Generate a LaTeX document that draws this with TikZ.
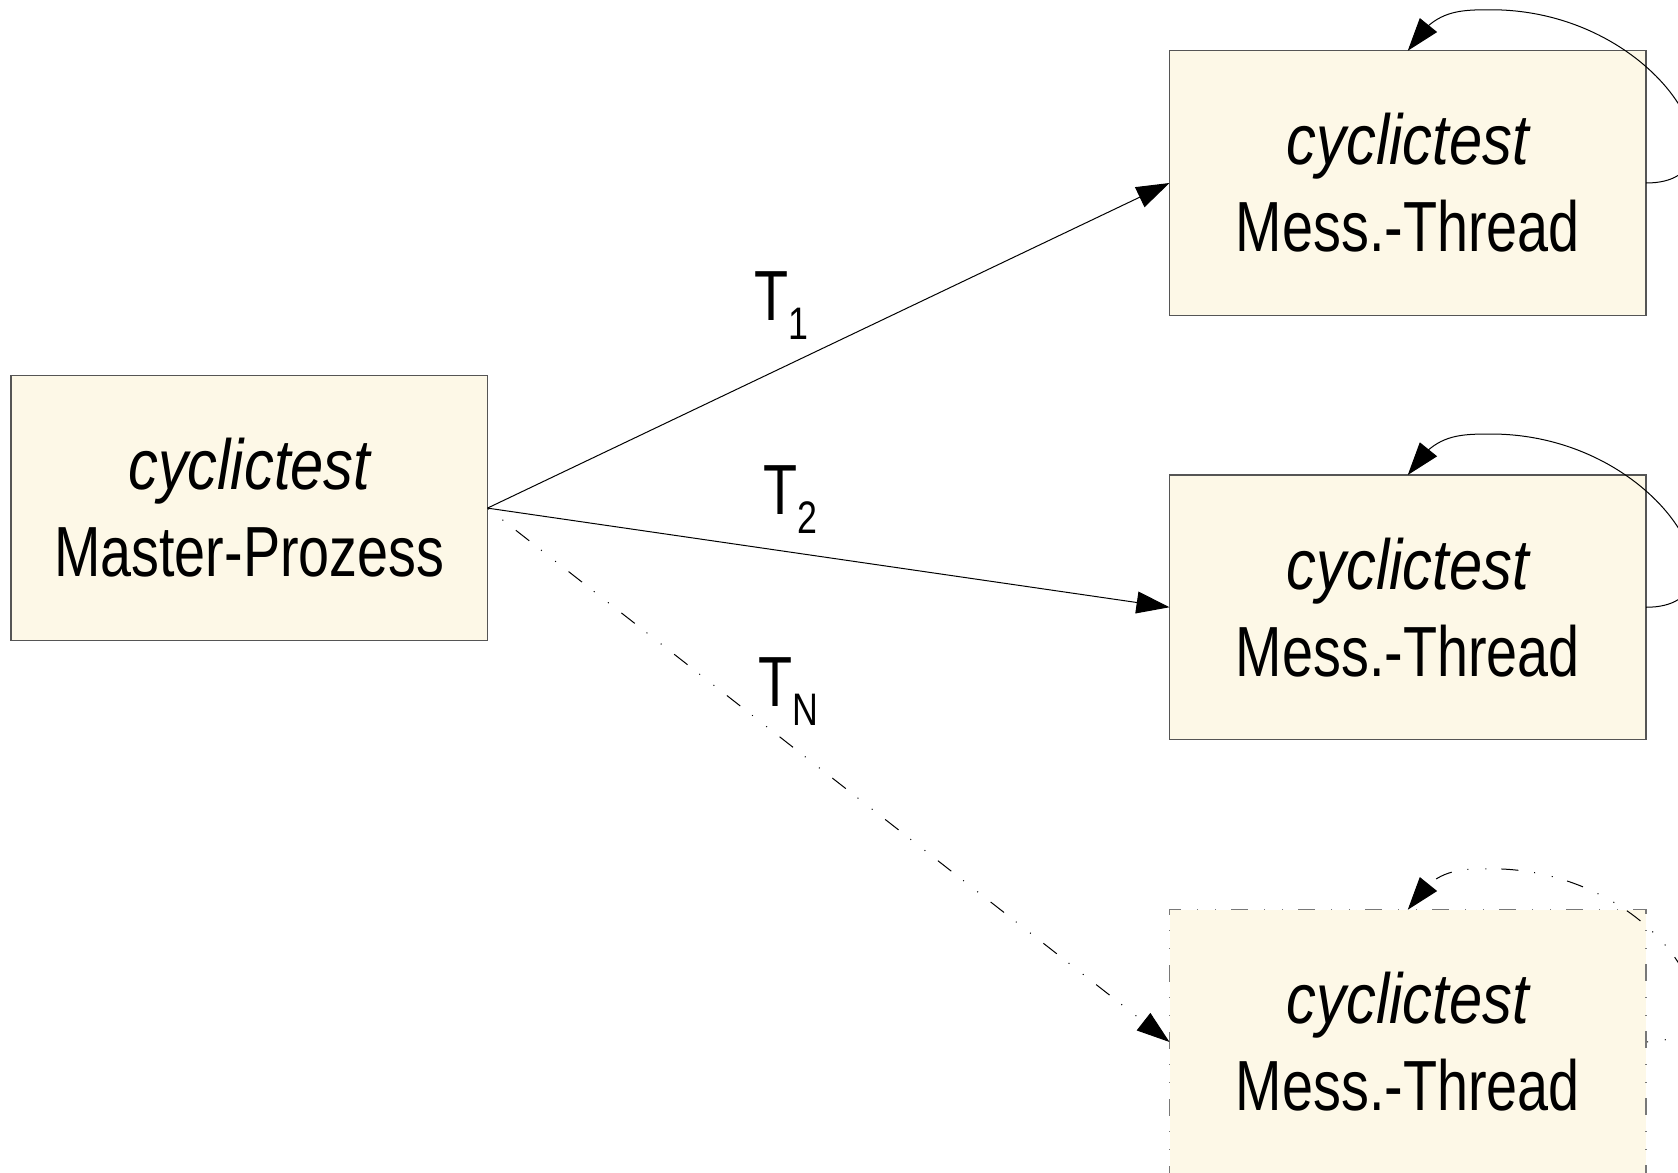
\documentclass[tikz,border=0pt]{standalone}
\usepackage{fontspec}
\setmainfont[FakeStretch=0.785,ItalicFeatures={FakeStretch=0.84}]{Liberation Sans}
\usetikzlibrary{arrows.meta,bending}
\definecolor{boxfill}{RGB}{253,248,231}
\definecolor{boxline}{RGB}{85,85,85}
\definecolor{dashline}{RGB}{120,120,120}
\newcommand\boxfont{\fontsize{35.5pt}{43.5pt}\selectfont}
\newcommand\labfont{\fontsize{35.5pt}{40pt}\selectfont}
\newcommand\tlab[1]{T\raisebox{-9.65pt}{\fontsize{22.8pt}{24pt}\selectfont #1}}
\begin{document}
\begin{tikzpicture}[x=0.5pt,y=-0.5pt,
  box/.style={draw=boxline, fill=boxfill, line width=0.6pt,
    minimum width=238.25pt, minimum height=132.25pt,
    inner sep=0pt, outer sep=0pt, align=center, font=\boxfont},
  ddot/.style={dash pattern=on 8.5pt off 7.5pt on 0.5pt off 8.5pt on 0.5pt off 8pt},
  dashbox/.style={box, draw=dashline, ddot},
  edge/.style={line width=0.5pt, -{Triangle[length=16.5pt,width=11pt]}},
  dedge/.style={edge, ddot, dash phase=15.5pt},
  tlabel/.style={anchor=base west, inner sep=0pt, outer sep=0pt, font=\labfont},
  selfloop/.style={insert path={.. controls +(110,0) and +(170,0) .. ([shift={(83,-41)}]#1.north) .. controls +(-35,0) and +(25,-40) .. (#1.north)}}]
\useasboundingbox (0,0) rectangle (1678,1173);
\clip (0,0) rectangle (1678,1173);

\node[box] (m) at (249.25,508.1) {{\itshape cyclictest}\\Master-Prozess};
\node[box] (t1) at (1407.75,183) {{\itshape cyclictest}\\Mess.-Thread};
\node[box] (t2) at (1407.75,607.25) {{\itshape cyclictest}\\Mess.-Thread};
\node[dashbox] (t3) at (1407.75,1042) {{\itshape cyclictest}\\Mess.-Thread};

\draw[edge] (m.east) -- (t1.west);
\draw[edge] (m.east) -- (t2.west);
\draw[dedge] (m.east) -- (t3.west);

\draw[edge] (t1.east) [selfloop=t1];
\draw[edge] (t2.east) [selfloop=t2];
\draw[dedge] (t3.east) [selfloop=t3];

\node[tlabel] (l1) at (754,320) {\tlab{1}};
\node[tlabel] (l2) at (763,514) {\tlab{2}};
\node[tlabel] (ln) at (758,706) {\tlab{N}};
\end{tikzpicture}
\end{document}
